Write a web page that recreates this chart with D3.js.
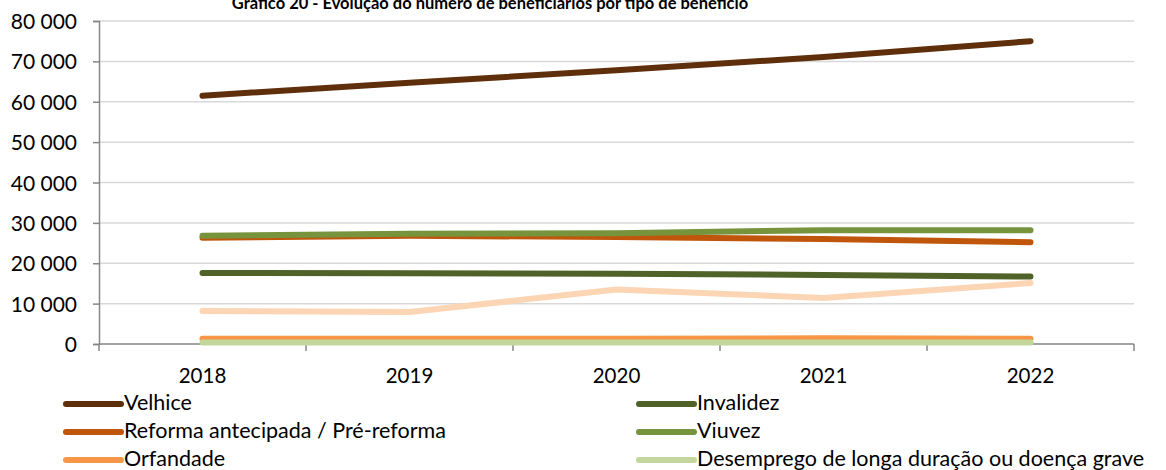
<!DOCTYPE html>
<html>
<head>
<meta charset="utf-8">
<script src="https://cdn.jsdelivr.net/npm/d3@7"></script>
<style>
  body { margin: 0; background: #fff; }
  text { font-family: Lato, "Open Sans", sans-serif; fill: #000; }
</style>
</head>
<body>
<svg id="chart" width="1166" height="470"></svg>
<script>
const years = ["2018", "2019", "2020", "2021", "2022"];
const velhice = [61500, 64700, 67800, 71100, 75000];
const invalidez = [17600, 17500, 17400, 17100, 16700];
const reforma = [26300, 26800, 26500, 26000, 25200];
const viuvez = [26800, 27300, 27400, 28200, 28200];
const orfandade = [1300, 1300, 1300, 1400, 1300];
const desemprego = [400, 400, 400, 400, 400];
const outros = [8200, 7900, 13500, 11400, 15100];
const yTicks = [0, 10000, 20000, 30000, 40000, 50000, 60000, 70000, 80000];

// drawing order (last on top)
const series = [
  { name: "Outros", values: outros, color: "#fcd5b4" },
  { name: "Orfandade", values: orfandade, color: "#f79646" },
  { name: "Desemprego de longa duração ou doença grave", values: desemprego, color: "#c3d69b" },
  { name: "Invalidez", values: invalidez, color: "#4f6228" },
  { name: "Reforma antecipada / Pré-reforma", values: reforma, color: "#c0560c" },
  { name: "Viuvez", values: viuvez, color: "#77933c" },
  { name: "Velhice", values: velhice, color: "#5f2f0c" },
];
const legendOrder = ["Velhice", "Invalidez", "Reforma antecipada / Pré-reforma", "Viuvez", "Orfandade", "Desemprego de longa duração ou doença grave"];

const svg = d3.select("#chart");
const margin = { left: 99, right: 1134, top: 21, bottom: 344 };

const x = d3.scaleBand().domain(years).range([margin.left, margin.right]);
const y = d3.scaleLinear().domain([0, 80000]).range([margin.bottom, margin.top]);

// gridlines
svg.selectAll(".grid")
  .data(yTicks.filter((d) => d > 0))
  .enter()
  .append("line")
  .attr("x1", margin.left)
  .attr("x2", margin.right)
  .attr("y1", (d) => y(d))
  .attr("y2", (d) => y(d))
  .style("stroke", "#d9d9d9")
  .style("stroke-width", 1.5);

// y axis
const fmt = (d) => d3.format(",")(d).replace(/,/g, " ");
const yAxis = svg.append("g")
  .attr("transform", `translate(${margin.left},0)`)
  .call(d3.axisLeft(y).tickValues(yTicks).tickFormat(fmt).tickSize(6).tickPadding(16));
yAxis.selectAll("text").style("font-size", "21px").attr("dy", "0.36em");
yAxis.selectAll("line,path").style("stroke", "#868686").style("stroke-width", 1.5);

// x axis
svg.append("line")
  .attr("x1", margin.left).attr("x2", margin.right)
  .attr("y1", y(0)).attr("y2", y(0))
  .style("stroke", "#868686").style("stroke-width", 1.5);
const bounds = years.map((d) => x(d)).concat([x(years[years.length - 1]) + x.bandwidth()]);
svg.selectAll(".xtick")
  .data(bounds)
  .enter()
  .append("line")
  .attr("x1", (d) => d).attr("x2", (d) => d)
  .attr("y1", y(0)).attr("y2", y(0) + 7)
  .style("stroke", "#868686").style("stroke-width", 1.5);
svg.selectAll(".xlabel")
  .data(years)
  .enter()
  .append("text")
  .attr("x", (d) => x(d) + x.bandwidth() / 2)
  .attr("y", y(0) + 39)
  .attr("text-anchor", "middle")
  .style("font-size", "20.5px")
  .text((d) => d);

// lines
const line = d3.line()
  .x((d, i) => x(years[i]) + x.bandwidth() / 2)
  .y((d) => y(d));
svg.selectAll(".series")
  .data(series)
  .enter()
  .append("path")
  .attr("d", (d) => line(d.values))
  .style("fill", "none")
  .style("stroke", (d) => d.color)
  .style("stroke-width", 6)
  .style("stroke-linecap", "round")
  .style("stroke-linejoin", "round");

// title
svg.append("text")
  .attr("x", 490)
  .attr("y", 9)
  .attr("text-anchor", "middle")
  .style("font-size", "16.5px")
  .style("font-weight", "bold")
  .text("Gráfico 20 - Evolução do número de beneficiários por tipo de benefício");

// legend
const legendItems = legendOrder.map((n) => series.find((s) => s.name === n));
const lg = svg.selectAll(".legend")
  .data(legendItems)
  .enter()
  .append("g")
  .attr("transform", (d, i) => `translate(${i % 2 === 0 ? 66 : 639},${404 + Math.floor(i / 2) * 28})`);
lg.append("line")
  .attr("x1", 0).attr("x2", 55)
  .attr("y1", 0).attr("y2", 0)
  .style("stroke", (d) => d.color)
  .style("stroke-width", 6)
  .style("stroke-linecap", "round");
lg.append("text")
  .attr("x", 58)
  .attr("y", 6)
  .style("font-size", "21.5px")
  .text((d) => d.name);
</script>
</body>
</html>
